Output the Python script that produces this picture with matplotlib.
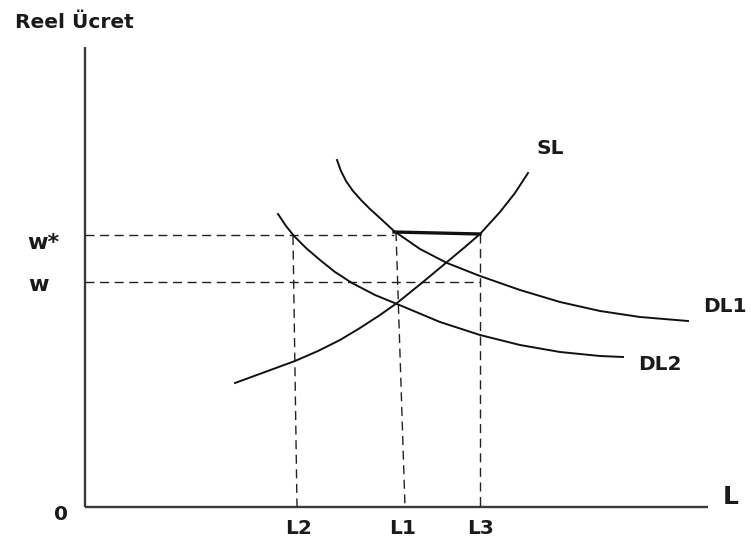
import matplotlib
matplotlib.use("Agg")
import matplotlib.pyplot as plt

# Data (coordinates measured from the origin of the drawn axes)
sl_x = [150, 180, 210, 233, 255, 275, 295, 312, 338, 362, 380, 395, 415, 430, 443]
sl_y = [124, 135, 146, 156, 167, 179, 192, 204, 225, 245, 260, 273, 295, 314, 334]

dl1_x = [252, 256, 261, 268, 276, 285, 296, 309, 335, 362, 395, 435, 475, 515, 555, 603]
dl1_y = [347, 336, 326, 316, 307, 298, 288, 276, 258, 244, 231, 217, 205, 196, 190, 186]

dl2_x = [193, 201, 209, 221, 235, 250, 267, 290, 312, 355, 395, 435, 475, 515, 538]
dl2_y = [293, 281, 271, 259, 247, 235, 224, 212, 203, 185, 172, 162, 155, 151, 150]

w_star = 272
w_level = 225
wstar_end = 309
w_end = 395

l_labels = ["L2", "L1", "L3"]
l_top_x = [208, 311, 395]
l_top_y = [271, 275, 273]
l_bot_x = [212, 320, 395]
l_label_x = [214, 318, 396]

gap_x = [309, 395]
gap_y = [275, 273]

x_axis_end = 623
y_axis_end = 460

FONT = "DejaVu Sans"

fig = plt.figure(figsize=(7.51, 5.43), dpi=100)
ax = fig.add_axes([0, 0, 1, 1])
ax.set_xlim(-85, 666)
ax.set_ylim(-36, 507)
ax.axis("off")

# axes
ax.plot([0, x_axis_end], [0, 0], color="#3a3a3a", lw=1.7, solid_capstyle="butt")
ax.plot([0, 0], [0, y_axis_end], color="#3a3a3a", lw=1.7, solid_capstyle="butt")

dash = dict(color="#222222", lw=1.0, linestyle=(0, (6.5, 4)))
ax.plot([0, wstar_end], [w_star, w_star], **dash)
ax.plot([0, w_end], [w_level, w_level], **dash)
for tx, ty, bx in zip(l_top_x, l_top_y, l_bot_x):
    ax.plot([tx, bx], [ty, 0], **dash)

# curves
ax.plot(sl_x, sl_y, color="#111111", lw=1.4)
ax.plot(dl1_x, dl1_y, color="#111111", lw=1.4)
ax.plot(dl2_x, dl2_y, color="#111111", lw=1.4)
ax.plot(gap_x, gap_y, color="#111111", lw=2.4)

tk = dict(family=FONT, weight="bold", color="#1a1a1a", fontsize=14.5)
ax.text(-70, 485, "Reel Ücret", ha="left", va="center", **tk)
ax.text(-42, 264, "w*", ha="center", va="center", family=FONT, weight="bold",
        color="#1a1a1a", fontsize=16)
ax.text(-47, 222, "w", ha="center", va="center", family=FONT, weight="bold",
        color="#1a1a1a", fontsize=16)
ax.text(-24, -8, "0", ha="center", va="center", **tk)
for lab, lx in zip(l_labels, l_label_x):
    ax.text(lx, -21, lab, ha="center", va="center", **tk)
ax.text(638, 10, "L", ha="left", va="center", family=FONT, weight="bold",
        color="#1a1a1a", fontsize=18)
ax.text(465, 359, "SL", ha="center", va="center", **tk)
ax.text(618, 200, "DL1", ha="left", va="center", **tk)
ax.text(553, 142, "DL2", ha="left", va="center", **tk)

fig.savefig("out.png", dpi=100)
